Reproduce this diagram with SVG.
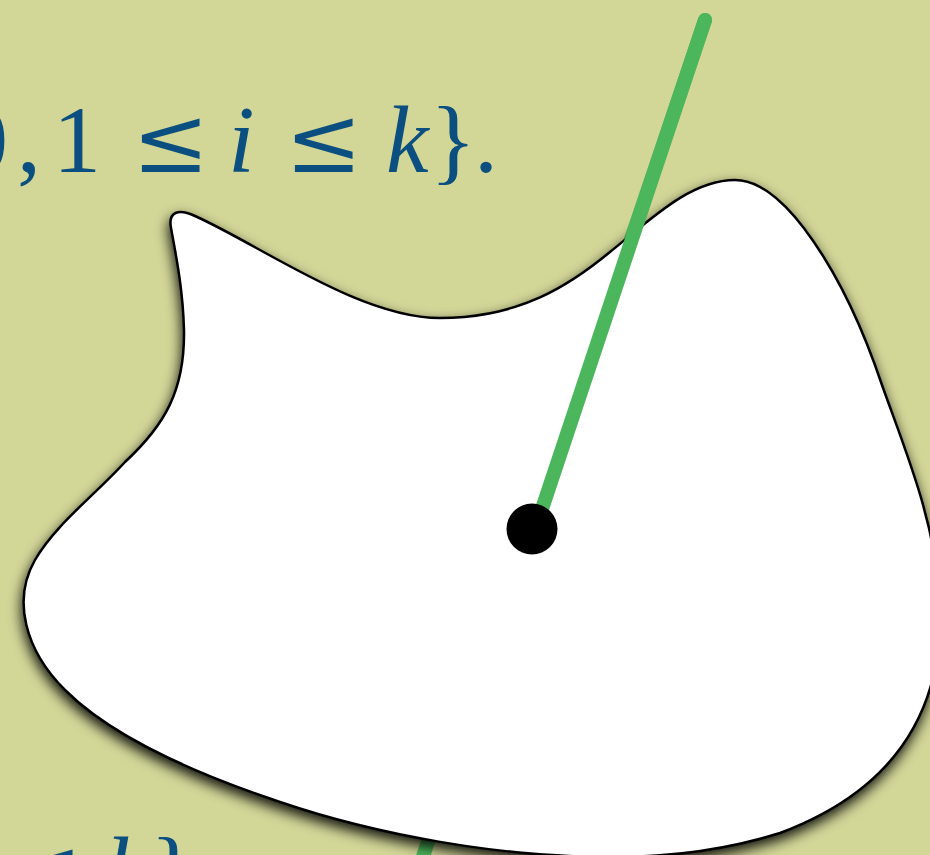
<svg xmlns="http://www.w3.org/2000/svg" width="930" height="855" viewBox="0 0 930 855">
  <style>
    .math { font-family: "Liberation Serif", "DejaVu Serif", serif; font-size: 96px; fill: #0a4f7f; }
    .it { font-style: italic; }
    .rel { font-family: "DejaVu Serif", serif; font-size: 92px; }
    .ray { stroke: #4cb65c; stroke-width: 14; stroke-linecap: round; fill: none; }
    .blob { fill: #ffffff; stroke: #000000; stroke-width: 2.5; }
  </style>
  <defs>
    <filter id="shadow" x="-15%" y="-15%" width="130%" height="130%">
      <feDropShadow dx="-1" dy="6" stdDeviation="6.5" flood-color="#000000" flood-opacity="0.9"/>
    </filter>
  </defs>
  <rect x="0" y="0" width="930" height="855" fill="#d2d697"/>

  <g id="text-top">
    <text class="math" y="172"><tspan x="-40">0</tspan><tspan x="17">,</tspan><tspan x="53">1</tspan><tspan x="132" class="rel">≤</tspan><tspan x="228" class="it">i</tspan><tspan x="285" class="rel">≤</tspan><tspan x="386" class="it">k</tspan><tspan x="430">}</tspan><tspan x="474">.</tspan></text>
  </g>
  <g id="text-bottom">
    <text class="math" y="903"><tspan x="5" class="rel">≤</tspan><tspan x="106" class="it">k</tspan><tspan x="150">}</tspan></text>
  </g>

  <g id="connectors">
    <line class="ray" x1="705" y1="20" x2="410" y2="895"/>
  </g>

  <g id="blob">
    <path class="blob" filter="url(#shadow)" d="M 171,228 C 168,212 178,208 195,216 C 260,245 360,318 440,318 C 520,318 570,285 610,252 C 650,220 690,180 735,180 C 785,180 845,275 882,385 C 905,450 935,520 940,600 C 945,710 895,790 780,833 C 720,852 660,858 600,857 C 500,856 380,836 280,802 C 190,772 110,735 65,690 C 25,650 12,600 35,560 C 55,525 95,495 125,462 C 165,425 185,390 184,330 C 183,290 176,255 171,228 Z"/>
  </g>

  <g id="ray-upper">
    <line class="ray" x1="705" y1="20" x2="534" y2="533"/>
  </g>

  <g id="point">
    <circle cx="532" cy="529" r="25.5" fill="#000000"/>
  </g>
</svg>
